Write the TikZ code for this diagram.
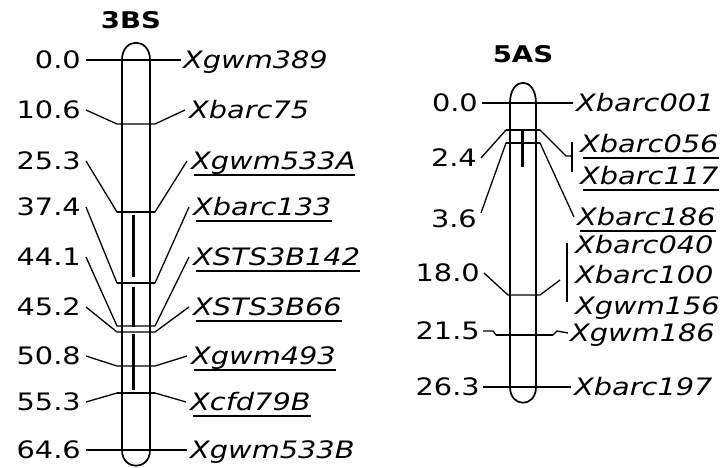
\documentclass[tikz,border=0pt]{standalone}
\usepackage{fontspec}
\setmainfont{DejaVu Sans}[FakeStretch=1.2, ItalicFont={DejaVu Sans Oblique}, BoldFont={DejaVu Sans Bold}]
\newcommand\mkul[1]{\setbox0=\hbox{#1}\rlap{\kern3pt\rule[-6pt]{\dimexpr\wd0-3pt\relax}{1.5pt}}\box0}
\begin{document}
\begin{tikzpicture}[x=1pt,y=-1pt,
  num/.style={font=\fontsize{24}{28}\selectfont, inner sep=0pt, text height=17.5pt, text depth=0pt, anchor=east},
  mk/.style={font=\fontsize{24}{28}\selectfont\itshape, inner sep=0pt, text height=17.5pt, text depth=0pt, anchor=west},
  ttl/.style={font=\fontsize{23}{26}\selectfont\bfseries, inner sep=0pt},
  chr/.style={line width=1.7pt},
  conn/.style={line width=1.3pt},
  thk/.style={line width=2.6pt},
  seg/.style={line width=3pt},
  vbar/.style={line width=1.8pt}]
\useasboundingbox (0,0) rectangle (724,468);
% ---------------- 3BS ----------------
\node[ttl] (t3) at (131,20) {3BS};
\draw[chr] (122,60) -- (122,450);
\draw[chr] (150,60) -- (150,450);
\draw[chr] (122,60) .. controls (122,37) and (150,37) .. (150,60);
\draw[chr] (122,450) .. controls (122,471) and (150,471) .. (150,450);
% internal segments
\draw[seg] (133,215) -- (133,277);
\draw[seg] (133,287) -- (133,327);
\draw[seg] (133,334) -- (133,390);
% end markers
\node[num] (a0) at (81,60) {0.0};
\node[mk] (b0) at (183,60) {Xgwm389};
\draw[conn] ([xshift=5pt]a0.east) -- ([xshift=-2pt]b0.west);
\node[num] (a8) at (81,450) {64.6};
\node[mk] (b8) at (190,450) {Xgwm533B};
\draw[conn] ([xshift=5pt]a8.east) -- ([xshift=-3pt]b8.west);
% inner markers
\foreach \i/\n/\ly/\by/\lab/\rx in {
  1/10.6/110/124/Xbarc75/189,
  2/25.3/161/212/\mkul{Xgwm533A}/191,
  3/37.4/207/283/\mkul{Xbarc133}/193,
  4/44.1/257/326/\mkul{XSTS3B142}/193,
  5/45.2/307/332/\mkul{XSTS3B66}/193,
  6/50.8/356/366/\mkul{Xgwm493}/191,
  7/55.3/402/393/\mkul{Xcfd79B}/190}{
  \node[num] (a\i) at (81,\ly) {\n};
  \node[mk] (b\i) at (\rx,\ly) {\lab};
  \coordinate (cl\i) at (117,\by);
  \coordinate (cr\i) at (155,\by);
  \draw[conn] ([xshift=5pt]a\i.east) -- (cl\i) -- (cr\i) -- ([xshift=-4pt]b\i.west);
}
\draw[thk] (cl2) -- (cr2);
\draw[thk] (cl3) -- (cr3);
\draw[thk] (cl7) -- (cr7);
% ---------------- 5AS ----------------
\node[ttl] (t5) at (523,54) {5AS};
\draw[chr] (510,103) -- (510,387);
\draw[chr] (536,103) -- (536,387);
\draw[chr] (510,103) .. controls (510,76) and (536,76) .. (536,103);
\draw[chr] (510,387) .. controls (510,408) and (536,408) .. (536,387);
\draw[seg] (522,130) -- (522,167);
% 0.0
\node[num] (c0) at (478,103) {0.0};
\node[mk] (d0) at (576,103) {Xbarc001};
\draw[conn] ([xshift=4pt]c0.east) -- ([xshift=-3pt]d0.west);
% 2.4
\node[num] (c1) at (477,158) {2.4};
\node[mk] (d1) at (580,144) {\mkul{Xbarc056}};
\node[mk] (d1b) at (580,176) {\mkul{Xbarc117}};
\coordinate (e1l) at (506,130);
\coordinate (e1r) at (540,130);
\coordinate (j1) at (571,156);
\draw[conn] ([xshift=4pt]c1.east) -- (e1l) -- (e1r) -- (566,156) -- (j1);
\draw[thk] (e1l) -- (e1r);
\draw[vbar] (572,142) -- (572,172);
% 3.6
\node[num] (c2) at (477,219) {3.6};
\node[mk] (d2) at (577,217) {\mkul{Xbarc186}};
\coordinate (e2l) at (506,143);
\coordinate (e2r) at (540,143);
\draw[conn] ([xshift=4pt,yshift=6pt]c2.east) -- (e2l) -- (e2r) -- ([xshift=-3pt]d2.west);
\draw[thk] (e2l) -- (e2r);
% 18.0
\node[num] (c3) at (480,273) {18.0};
\node[mk] (d3a) at (575,245) {Xbarc040};
\node[mk] (d3b) at (575,275) {Xbarc100};
\node[mk] (d3c) at (575,306) {Xgwm156};
\coordinate (e3l) at (508,295);
\coordinate (e3r) at (540,295);
\coordinate (j3) at (560,280);
\draw[conn] ([xshift=4pt]c3.east) -- (e3l) -- (e3r) -- (j3);
\draw[vbar] (567,243) -- (567,302);
% 21.5
\node[num] (c4) at (480,331) {21.5};
\node[mk] (d4) at (570,333) {Xgwm186};
\coordinate (e4l) at (496,335);
\coordinate (e4r) at (553,335);
\draw[conn] ([xshift=3pt]c4.east) -- ++(10,0) -- (e4l) -- (e4r) -- (557,331) -- ([xshift=-2pt]d4.west);
\draw[thk] (e4l) -- (e4r);
% 26.3
\node[num] (c5) at (480,387) {26.3};
\node[mk] (d5) at (574,387) {Xbarc197};
\draw[conn] ([xshift=3pt]c5.east) -- ([xshift=-3pt]d5.west);
\end{tikzpicture}
\end{document}
